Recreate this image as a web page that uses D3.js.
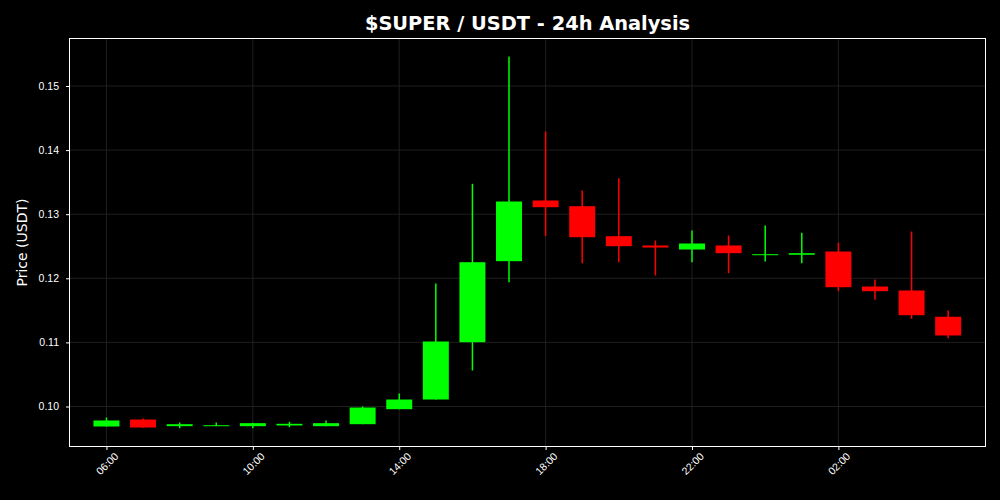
<!DOCTYPE html>
<html>
<head>
<meta charset="utf-8">
<script src="https://cdn.jsdelivr.net/npm/d3@7"></script>
<style>
  body { margin: 0; background: #000; }
  svg { display: block; font-family: "DejaVu Sans", sans-serif; }
</style>
</head>
<body>
<script>
// hourly candles, 06:00 -> 05:00 next day
const hours = ["06:00","07:00","08:00","09:00","10:00","11:00","12:00","13:00","14:00","15:00","16:00","17:00",
               "18:00","19:00","20:00","21:00","22:00","23:00","00:00","01:00","02:00","03:00","04:00","05:00"];
const opens  = [0.09688,0.09797,0.09693,0.09693,0.09693,0.09704,0.09693,0.09724,0.09958,0.10109,0.11003,0.12267,
                0.13214,0.13125,0.12657,0.12512,0.12449,0.12512,0.12360,0.12367,0.12418,0.11872,0.11810,0.11400];
const closes = [0.09782,0.09672,0.09724,0.09708,0.09740,0.09730,0.09740,0.09984,0.10109,0.11014,0.12251,0.13198,
                0.13109,0.12641,0.12501,0.12480,0.12543,0.12392,0.12376,0.12392,0.11861,0.11799,0.11424,0.11108];
const highs  = [0.09828,0.09813,0.09750,0.09750,0.09745,0.09761,0.09782,0.10000,0.10203,0.11920,0.13474,0.15460,
                0.14290,0.13370,0.13562,0.12590,0.12746,0.12668,0.12824,0.12710,0.12554,0.11981,0.12730,0.11498];
const lows   = [0.09688,0.09670,0.09661,0.09693,0.09661,0.09677,0.09693,0.09724,0.09958,0.10109,0.10562,0.11939,
                0.12657,0.12236,0.12251,0.12044,0.12251,0.12080,0.12262,0.12236,0.11799,0.11665,0.11368,0.11066];
const yTicks = [0.10, 0.11, 0.12, 0.13, 0.14, 0.15];

const W = 1000, H = 500;
const m = {left: 69.5, right: 14.5, top: 38.5, bottom: 53.5};

const start = new Date(2024, 0, 1, 6, 0);
const hour = 3600 * 1000;
const data = hours.map((h, i) => ({
  t: new Date(start.getTime() + i * hour),
  o: opens[i], c: closes[i], h: highs[i], l: lows[i]
}));

const svg = d3.select("body").append("svg")
  .attr("width", W).attr("height", H);

svg.append("rect").attr("width", W).attr("height", H).attr("fill", "#000");

const x = d3.scaleTime()
  .domain([new Date(start.getTime() - 1.01 * hour), new Date(start.getTime() + 24.02 * hour)])
  .range([m.left, W - m.right]);

const y = d3.scaleLinear()
  .domain([0.09376, 0.15741])
  .range([H - m.bottom, m.top]);

// grid
const xTickVals = d3.range(0, 6).map(i => new Date(start.getTime() + i * 4 * hour));
svg.append("g").selectAll("line").data(xTickVals).enter().append("line")
  .attr("x1", d => x(d)).attr("x2", d => x(d))
  .attr("y1", m.top).attr("y2", H - m.bottom)
  .attr("stroke", "#262626").attr("stroke-width", 0.8);
svg.append("g").selectAll("line").data(yTicks).enter().append("line")
  .attr("x1", m.left).attr("x2", W - m.right)
  .attr("y1", d => y(d)).attr("y2", d => y(d))
  .attr("stroke", "#262626").attr("stroke-width", 0.8);

// candles
const bw = x(new Date(start.getTime() + 0.71 * hour)) - x(start);
const col = d => d.c >= d.o ? "#00ff00" : "#ff0000";

const candles = svg.append("g").selectAll("g").data(data).enter().append("g");
candles.append("line")
  .attr("x1", d => x(d.t)).attr("x2", d => x(d.t))
  .attr("y1", d => y(d.h)).attr("y2", d => y(d.l))
  .attr("stroke", col).attr("stroke-width", 1.5);
candles.append("rect")
  .attr("x", d => x(d.t) - bw / 2)
  .attr("width", bw)
  .attr("y", d => y(Math.max(d.o, d.c)))
  .attr("height", d => Math.max(1, Math.abs(y(d.o) - y(d.c))))
  .attr("fill", col);

// axes
const xAxis = d3.axisBottom(x).tickValues(xTickVals).tickFormat(d3.timeFormat("%H:%M")).tickSize(3.5);
const gx = svg.append("g")
  .attr("transform", "translate(0," + (H - m.bottom) + ")")
  .call(xAxis);
gx.select(".domain").remove();
gx.selectAll("line").attr("stroke", "#fff");
gx.selectAll("text")
  .attr("fill", "#fff").attr("font-size", 10.5)
  .attr("text-anchor", "middle").attr("dy", null)
  .attr("dominant-baseline", "central")
  .attr("y", 0)
  .attr("transform", "translate(0,17) rotate(-45)");

const yAxis = d3.axisLeft(y).tickValues(yTicks).tickFormat(d3.format(".2f")).tickSize(3.5).tickPadding(7);
const gy = svg.append("g")
  .attr("transform", "translate(" + m.left + ",0)")
  .call(yAxis);
gy.select(".domain").remove();
gy.selectAll("line").attr("stroke", "#fff");
gy.selectAll("text").attr("fill", "#fff").attr("font-size", 10.5);

// frame
svg.append("rect")
  .attr("x", m.left).attr("y", m.top)
  .attr("width", W - m.left - m.right).attr("height", H - m.top - m.bottom)
  .attr("fill", "none").attr("stroke", "#fff").attr("stroke-width", 1);

// labels
svg.append("text")
  .attr("x", (m.left + W - m.right) / 2).attr("y", 30)
  .attr("text-anchor", "middle").attr("fill", "#fff")
  .attr("font-size", 19.4).attr("font-weight", "bold")
  .text("$SUPER / USDT - 24h Analysis");

svg.append("text")
  .attr("transform", "translate(27," + ((m.top + H - m.bottom) / 2) + ") rotate(-90)")
  .attr("text-anchor", "middle").attr("fill", "#fff")
  .attr("font-size", 14)
  .text("Price (USDT)");
</script>
</body>
</html>
